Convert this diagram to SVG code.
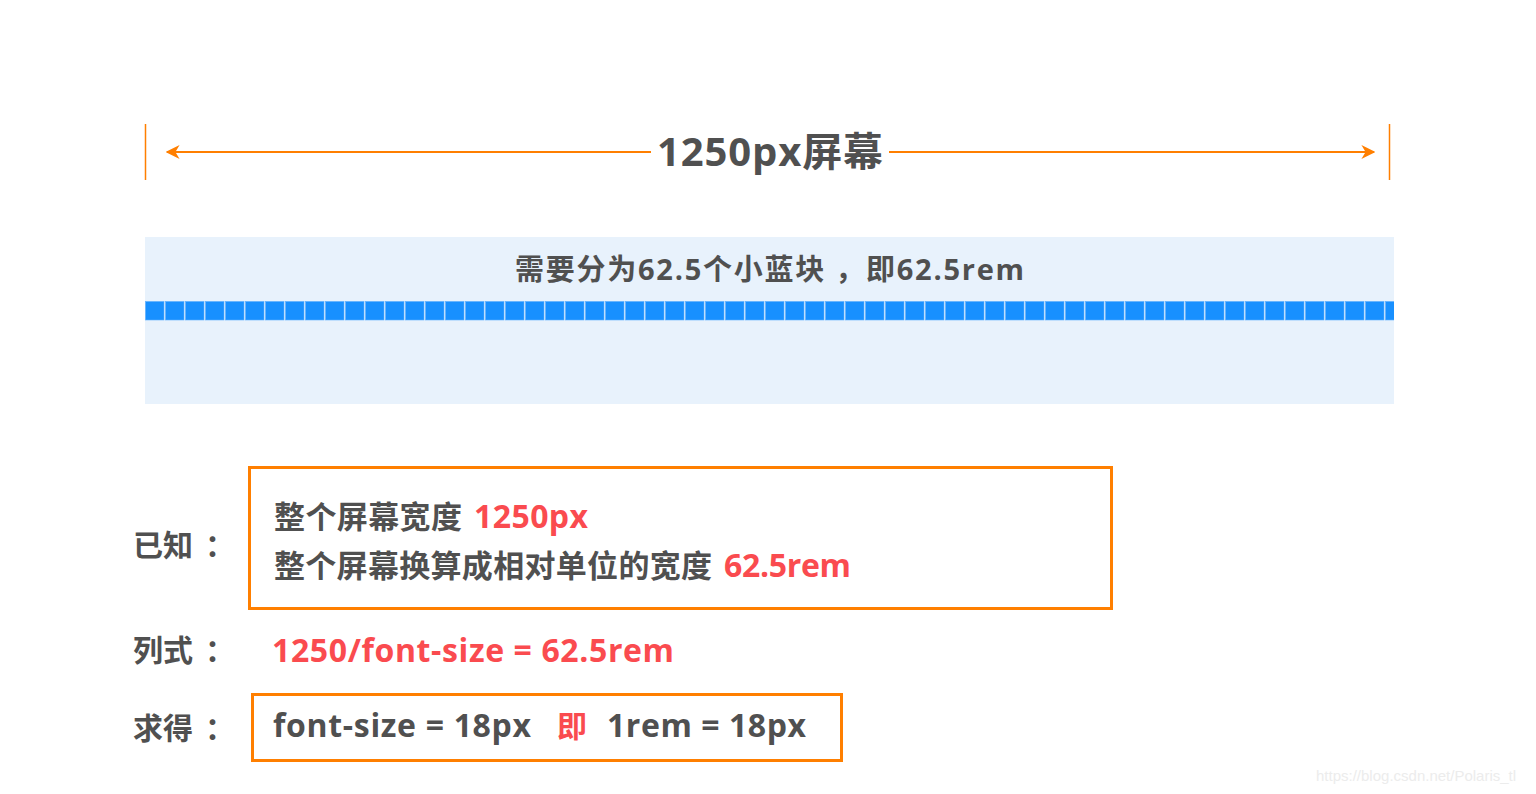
<svg xmlns="http://www.w3.org/2000/svg" width="1536" height="794" viewBox="0 0 1536 794">
<defs>
<style>
.t{font-family:"Open Sans","Noto Sans CJK SC",sans-serif;font-weight:bold;fill:#505050}
.c{font-family:"Noto Sans CJK SC",sans-serif;font-weight:bold;fill:#505050}
.r{fill:#fa4b4f}
.o{fill:none;stroke:#ff7f00}
.blk{fill:#1890ff;stroke:#5aaeff;stroke-width:0.6}
</style>
<marker id="ah" viewBox="0 0 10 10" refX="9" refY="5" markerWidth="14" markerHeight="14" markerUnits="userSpaceOnUse" orient="auto-start-reverse">
<path d="M0,0 L10,5 L0,10 L3,5 Z" fill="#ff7f00"/>
</marker>
<pattern id="blocks" x="145" y="301" width="20" height="20" patternUnits="userSpaceOnUse">
<rect x="0.5" y="0.5" width="18.5" height="18.5" class="blk"/>
</pattern>
</defs>
<rect width="1536" height="794" fill="#fff"/>
<g id="ruler">
<line x1="145.5" y1="124" x2="145.5" y2="180" stroke="#ff7f00" stroke-width="1.5"/>
<line x1="1389.5" y1="124" x2="1389.5" y2="180" stroke="#ff7f00" stroke-width="1.5"/>
</g>
<g id="connectors">
<line x1="651" y1="152" x2="167" y2="152" stroke="#ff7f00" stroke-width="2.2" marker-end="url(#ah)"/>
<line x1="889" y1="152" x2="1374" y2="152" stroke="#ff7f00" stroke-width="2.2" marker-end="url(#ah)"/>
</g>
<g id="title">
<text class="t" x="657" y="166" font-size="40" textLength="226">1250px屏幕</text>
</g>
<g id="screen">
<rect x="145" y="237" width="1249" height="167" fill="#e8f2fc"/>
<text class="t" x="515" y="280" font-size="29" textLength="509">需要分为62.5个小蓝块 ，即62.5rem</text>
<rect x="145" y="301" width="1249" height="20" fill="url(#blocks)"/>
</g>
<g id="known">
<text class="c" x="133" y="556" font-size="30">已知</text>
<text class="c" x="205" y="556" font-size="30">：</text>
<rect x="249.5" y="467.5" width="862" height="141" class="o" stroke-width="3"/>
<text class="c" x="274" y="528" font-size="31" textLength="188">整个屏幕宽度</text>
<text class="t r" x="474" y="528" font-size="32" textLength="114">1250px</text>
<text class="c" x="274" y="577" font-size="31" textLength="438">整个屏幕换算成相对单位的宽度</text>
<text class="t r" x="724" y="577" font-size="32" textLength="127">62.5rem</text>
</g>
<g id="formula">
<text class="c" x="133" y="661" font-size="30">列式</text>
<text class="c" x="205" y="661" font-size="30">：</text>
<text class="t r" x="272" y="662" font-size="32" textLength="402">1250/font-size = 62.5rem</text>
</g>
<g id="result">
<text class="c" x="133" y="739" font-size="30">求得</text>
<text class="c" x="205" y="739" font-size="30">：</text>
<rect x="252.5" y="694.5" width="589" height="66" class="o" stroke-width="3"/>
<text class="t" x="273" y="737" font-size="32" textLength="258">font-size = 18px</text>
<text class="c r" x="557" y="737" font-size="30">即</text>
<text class="t" x="607" y="737" font-size="32" textLength="199">1rem = 18px</text>
</g>
<text x="1316" y="781" font-family="Liberation Sans, sans-serif" font-size="15" fill="#ececec">https://blog.csdn.net/Polaris_tl</text>
</svg>
